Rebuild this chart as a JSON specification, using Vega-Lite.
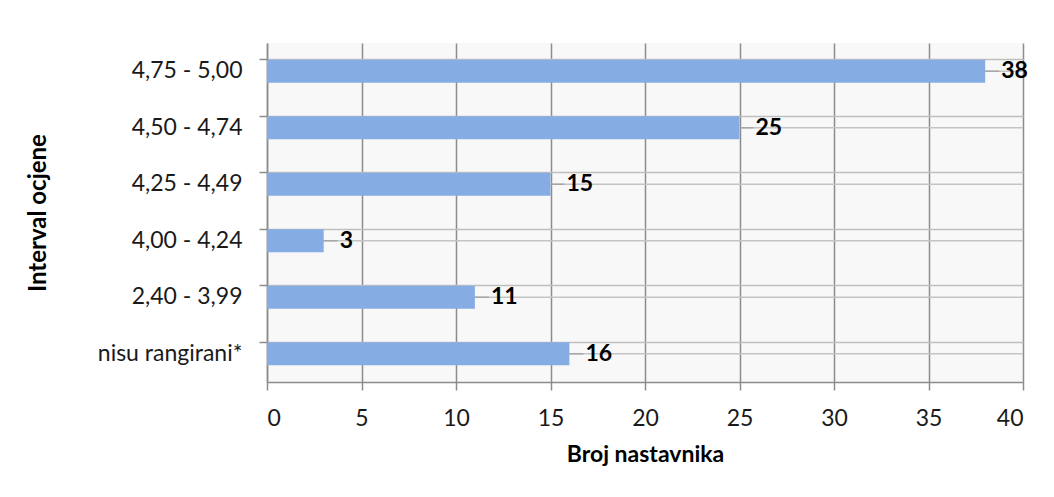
{
  "$schema": "https://vega.github.io/schema/vega-lite/v6.json",
  "autosize": "none",
  "width": 756,
  "height": 339,
  "padding": {"left": 267, "top": 43, "right": 31, "bottom": 115},
  "background": "white",
  "config": {
    "font": "Lato",
    "view": {"fill": "#f8f8f8", "stroke": null}
  },
  "data": {
    "values": [
      {"interval": "4,75 - 5,00", "broj": 38},
      {"interval": "4,50 - 4,74", "broj": 25},
      {"interval": "4,25 - 4,49", "broj": 15},
      {"interval": "4,00 - 4,24", "broj": 3},
      {"interval": "2,40 - 3,99", "broj": 11},
      {"interval": "nisu rangirani*", "broj": 16}
    ]
  },
  "encoding": {
    "y": {
      "field": "interval",
      "type": "nominal",
      "sort": null,
      "scale": {"paddingInner": 0.59, "paddingOuter": 0.295},
      "axis": {
        "title": "Interval ocjene",
        "titleFont": "Lato",
        "titleFontSize": 24,
        "titleFontWeight": "bold",
        "titleColor": "#000000",
        "titlePadding": 47,
        "labelFont": "Lato",
        "labelFontSize": 23,
        "labelColor": "#1a1a1a",
        "labelPadding": 17,
        "bandPosition": 0,
        "tickSize": 8,
        "tickColor": "#8c8c8c",
        "tickWidth": 1.5,
        "domainColor": "#8c8c8c",
        "domainWidth": 1.5,
        "grid": true,
        "gridColor": "#bfbfbf",
        "gridWidth": 1.5
      }
    }
  },
  "layer": [
    {
      "mark": {"type": "rule", "stroke": "#c4c4c4", "strokeWidth": 1.5},
      "encoding": {}
    },
    {
      "mark": {"type": "bar", "color": "#86ade3"},
      "encoding": {
        "x": {
          "field": "broj",
          "type": "quantitative",
          "scale": {"domain": [0, 40]},
          "axis": {
            "title": "Broj nastavnika",
            "titleFont": "Lato",
            "titleFontSize": 23,
            "titleFontWeight": "bold",
            "titleColor": "#000000",
            "titlePadding": 13,
            "labelFont": "Lato",
            "labelFontSize": 23,
            "labelColor": "#1a1a1a",
            "labelPadding": 17,
            "values": [0, 5, 10, 15, 20, 25, 30, 35, 40],
            "tickSize": 8,
            "tickColor": "#8c8c8c",
            "tickWidth": 1.5,
            "domainColor": "#8c8c8c",
            "domainWidth": 1.5,
            "grid": true,
            "gridColor": "#8c8c8c",
            "gridWidth": 1.5
          }
        }
      }
    },
    {
      "mark": {"type": "rule", "stroke": "#a6a6a6", "strokeWidth": 1.5, "x2Offset": 14},
      "encoding": {
        "x": {"field": "broj", "type": "quantitative"},
        "x2": {"field": "broj"}
      }
    },
    {
      "mark": {"type": "text", "align": "left", "baseline": "middle", "dx": 16, "fontSize": 23, "fontWeight": "bold", "font": "Lato", "color": "#000000"},
      "encoding": {
        "x": {"field": "broj", "type": "quantitative"},
        "text": {"field": "broj", "type": "quantitative"}
      }
    }
  ]
}
